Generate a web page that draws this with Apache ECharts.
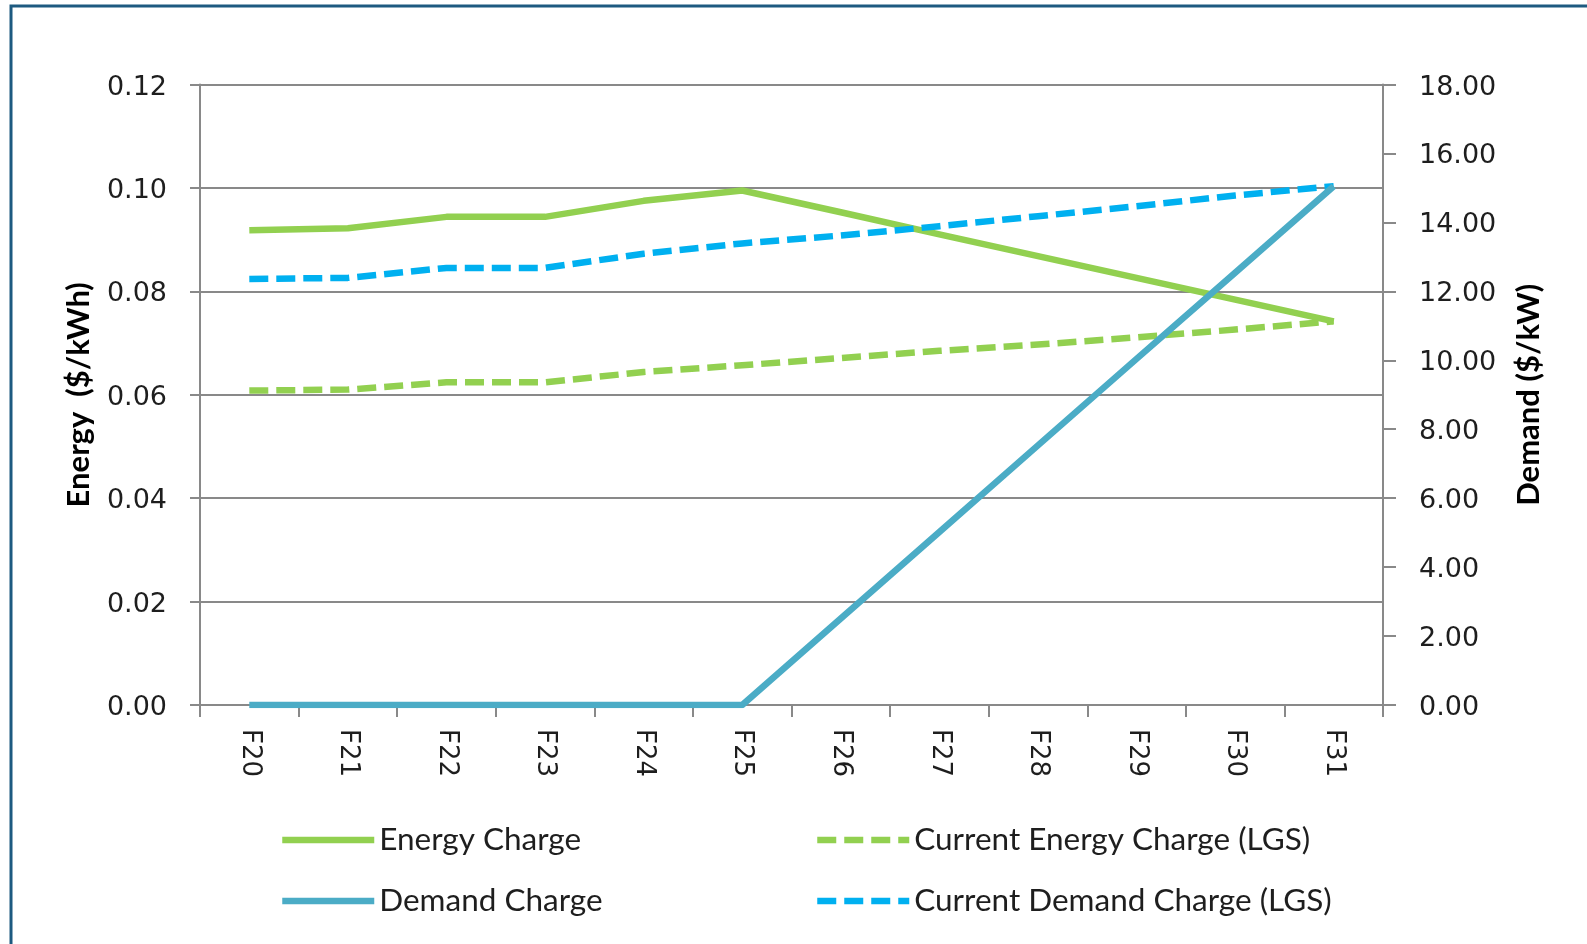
<!DOCTYPE html>
<html>
<head>
<meta charset="utf-8">
<script src="https://cdn.jsdelivr.net/npm/echarts@6/dist/echarts.min.js"></script>
<style>
html,body{margin:0;padding:0;background:#fff;}
#chart{width:1587px;height:944px;}
</style>
</head>
<body>
<div id="chart"></div>
<script>
// ---- data ----
const categories = ['F20','F21','F22','F23','F24','F25','F26','F27','F28','F29','F30','F31'];
const energyCharge = [0.0918,0.0922,0.0944,0.0944,0.0975,0.0995,0.0953,0.0910,0.0868,0.0826,0.0784,0.0742];
const currentEnergyCharge = [0.0608,0.0610,0.0624,0.0624,0.0644,0.0657,0.0671,0.0685,0.0697,0.0711,0.0726,0.0742];
const currentDemandCharge = [12.36,12.39,12.68,12.68,13.09,13.39,13.62,13.89,14.18,14.47,14.78,15.05];
const demandCharge = [0,0,0,0,0,0,2.51,5.02,7.53,10.04,12.54,15.05];
const leftTicks = {min:0, max:0.12, step:0.02};
const rightTicks = {min:0, max:18, step:2};

const GREEN = '#92d050', TEAL = '#4bacc6', BLUE = '#00b0f0';
const AXIS = '#898989';
const TXT = '#1e1e1e';
const DASH = [19, 8];
const LW = 6.5;

const chart = echarts.init(document.getElementById('chart'), null, {renderer:'canvas'});

function legendAt(name, left, top, color, dashed) {
  return {
    data: [name],
    left: left, top: top,
    orient: 'horizontal',
    padding: 0,
    itemWidth: 92, itemHeight: 14,
    selectedMode: false,
    textStyle: {fontFamily: 'Lato', fontSize: 31.5, color: TXT},
    itemStyle: {opacity: 0, borderWidth: 0},
    lineStyle: {color: color, width: LW, type: dashed ? DASH : 'solid', opacity: 1}
  };
}

const tickRich = {t: {fontFamily: 'DejaVu Sans', fontSize: 27, color: TXT, padding: [6, 0, 0, 0]}};

const option = {
  backgroundColor: '#fff',
  animation: false,
  graphic: [{
    type: 'rect', silent: true, z: 100,
    shape: {x: 11, y: 6, width: 1620, height: 1000},
    style: {fill: 'none', stroke: '#1d5a80', lineWidth: 3}
  }],
  grid: {left: 200, right: 204, top: 84.5, bottom: 239, containLabel: false},
  legend: [
    legendAt('Energy Charge', 279, 824, GREEN, false),
    legendAt('Current Energy Charge (LGS)', 814, 824, GREEN, true),
    legendAt('Demand Charge', 279, 885, TEAL, false),
    legendAt('Current Demand Charge (LGS)', 814, 885, BLUE, true)
  ],
  xAxis: {
    type: 'category',
    data: categories,
    boundaryGap: true,
    axisLine: {show: true, lineStyle: {color: AXIS, width: 2}},
    axisTick: {show: true, alignWithLabel: false, interval: 0, length: 12, lineStyle: {color: AXIS, width: 2}},
    axisLabel: {interval: 0, rotate: -90, margin: 24, fontFamily: 'DejaVu Sans', fontSize: 26, color: TXT},
    splitLine: {show: false}
  },
  yAxis: [{
    type: 'value',
    position: 'left',
    min: leftTicks.min, max: leftTicks.max, interval: leftTicks.step,
    name: 'Energy  ($/kWh)',
    nameLocation: 'middle',
    nameRotate: 90,
    nameGap: 106,
    nameTextStyle: {fontFamily: 'Lato', fontWeight: 'bold', fontSize: 31, color: '#000'},
    axisLine: {show: true, lineStyle: {color: AXIS, width: 2}},
    axisTick: {show: true, length: 10, lineStyle: {color: AXIS, width: 2}},
    axisLabel: {margin: 33, fontFamily: 'DejaVu Sans', fontSize: 27, color: TXT, rich: tickRich,
      formatter: v => '{t|' + v.toFixed(2) + '}'},
    splitLine: {show: true, lineStyle: {color: AXIS, width: 2}}
  }, {
    type: 'value',
    position: 'right',
    min: rightTicks.min, max: rightTicks.max, interval: rightTicks.step,
    name: 'Demand ($/kW)',
    nameLocation: 'middle',
    nameRotate: 90,
    nameGap: 130,
    nameTextStyle: {fontFamily: 'Lato', fontWeight: 'bold', fontSize: 31, color: '#000'},
    axisLine: {show: true, lineStyle: {color: AXIS, width: 2}},
    axisTick: {show: true, length: 13, lineStyle: {color: AXIS, width: 2}},
    axisLabel: {margin: 36, fontFamily: 'DejaVu Sans', fontSize: 27, color: TXT, rich: tickRich,
      formatter: v => '{t|' + v.toFixed(2) + '}'},
    splitLine: {show: false}
  }],
  series: [{
    name: 'Energy Charge', type: 'line', yAxisIndex: 0,
    data: energyCharge, symbol: 'none', z: 3,
    lineStyle: {color: GREEN, width: LW, join: 'round'},
    itemStyle: {color: GREEN}
  }, {
    name: 'Current Energy Charge (LGS)', type: 'line', yAxisIndex: 0,
    data: currentEnergyCharge, symbol: 'none', z: 3,
    lineStyle: {color: GREEN, width: LW, type: DASH, join: 'round'},
    itemStyle: {color: GREEN}
  }, {
    name: 'Current Demand Charge (LGS)', type: 'line', yAxisIndex: 1,
    data: currentDemandCharge, symbol: 'none', z: 4,
    lineStyle: {color: BLUE, width: LW, type: DASH, join: 'round'},
    itemStyle: {color: BLUE}
  }, {
    name: 'Demand Charge', type: 'line', yAxisIndex: 1,
    data: demandCharge, symbol: 'none', z: 5,
    lineStyle: {color: TEAL, width: LW, join: 'round'},
    itemStyle: {color: TEAL}
  }]
};
chart.setOption(option);
</script>
</body>
</html>
